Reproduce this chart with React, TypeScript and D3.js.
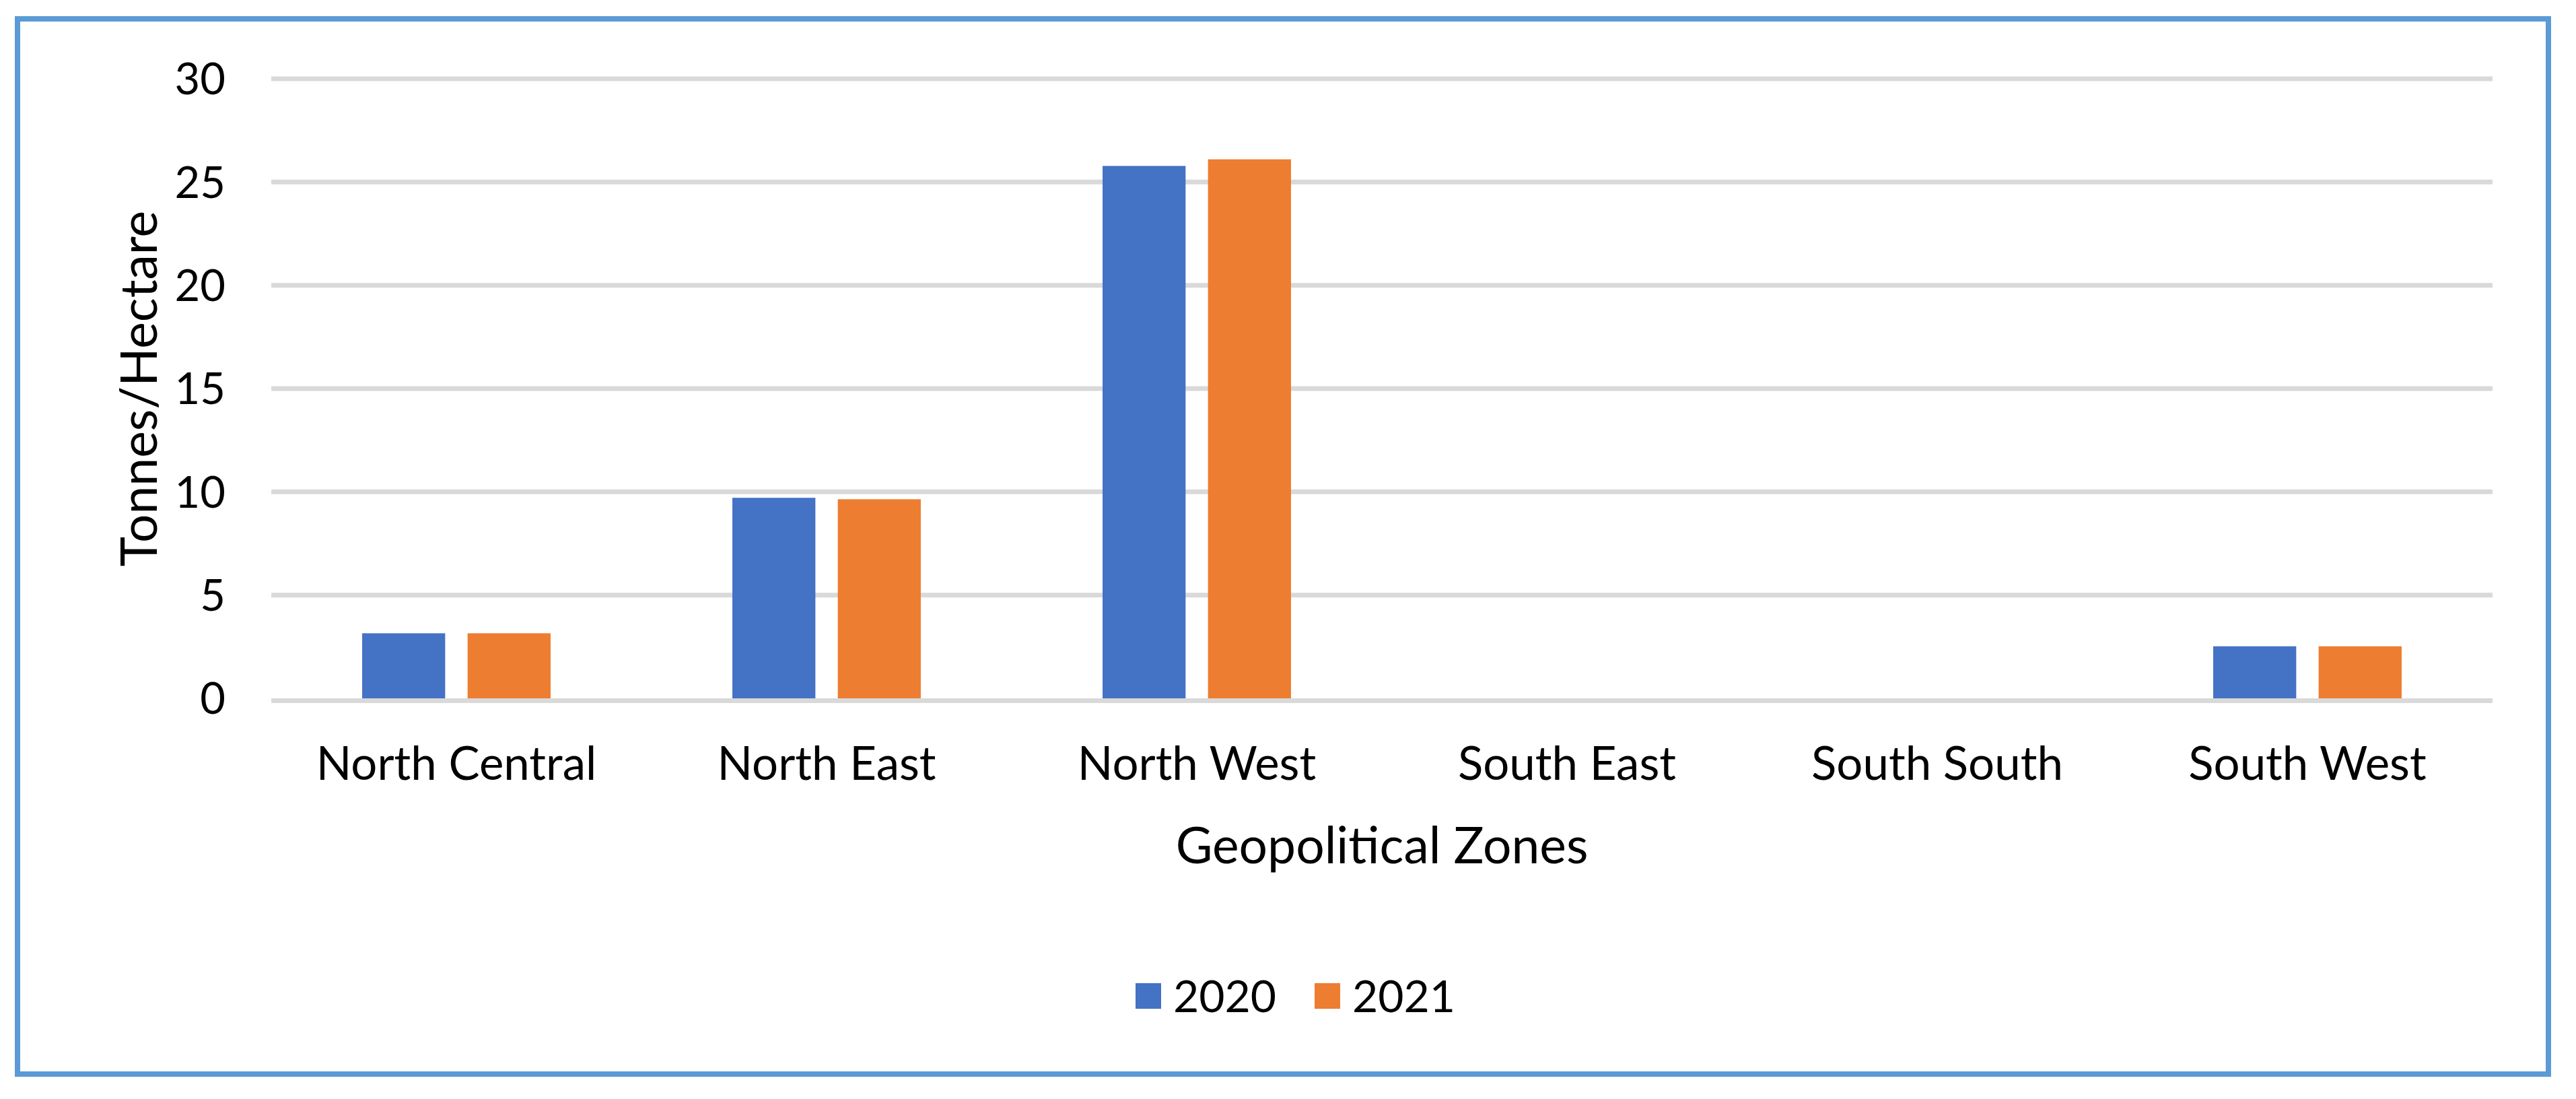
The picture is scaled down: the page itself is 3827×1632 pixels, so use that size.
import React from 'react'
import * as d3 from 'd3'

const zones = ['North Central', 'North East', 'North West', 'South East', 'South South', 'South West']
const years = ['2020', '2021']
const values2020 = [3.15, 9.71, 25.78, 0, 0, 2.52]
const values2021 = [3.15, 9.64, 26.1, 0, 0, 2.52]
const yTicks = [0, 5, 10, 15, 20, 25, 30]
const colors = ['#4472C4', '#ED7D31']

const W = 3827
const H = 1632
const FONT = 'Lato, "Open Sans", sans-serif'

export default function App() {
  const x0 = d3.scaleBand().domain(zones).range([403, 3703]).padding(0)
  const bw = x0.bandwidth() / 4.46
  const gap = bw * 0.27
  const x1 = d3.scaleBand().domain(years)
    .range([-(bw + gap / 2), bw + gap / 2])
    .paddingInner(gap / (bw + gap)).paddingOuter(0)
  const y = d3.scaleLinear().domain([0, 30]).range([1037, 117])
  const color = d3.scaleOrdinal<string, string>().domain(years).range(colors)

  const series = [values2020, values2021]

  // legend
  const legendLeft = 1687
  const itemStep = 266

  return (
    <svg width={W} height={H} style={{ position: 'absolute', left: 0, top: 0, background: '#fff' }}>
      <rect x={0} y={0} width={W} height={H} fill='#fff' />
      <rect x={26} y={28} width={3760} height={1567} fill='#fff' stroke='#5B9BD5' strokeWidth={8} />

      {/* gridlines */}
      {yTicks.filter(t => t > 0).map(t => (
        <line key={t} x1={403} x2={3703} y1={y(t)} y2={y(t)} stroke='#D9D9D9' strokeWidth={7} />
      ))}

      {/* bars */}
      {zones.map((z, i) => (
        <g key={z} transform={`translate(${x0(z)! + x0.bandwidth() / 2},0)`}>
          {years.map((yr, j) => (
            <rect key={yr}
              x={x1(yr)!}
              y={y(series[j][i])}
              width={x1.bandwidth()}
              height={y(0) - y(series[j][i])}
              fill={color(yr)} />
          ))}
        </g>
      ))}

      {/* axis line at zero */}
      <line x1={403} x2={3703} y1={y(0) + 3.5} y2={y(0) + 3.5} stroke='#D9D9D9' strokeWidth={7} />

      {/* y tick labels */}
      {yTicks.map(t => (
        <text key={t} x={335} y={y(t)} dy='0.36em' textAnchor='end'
          fontFamily={FONT} fontSize={65} fill='#000'>{t}</text>
      ))}

      {/* x labels */}
      {zones.map(z => (
        <text key={z} x={x0(z)! + x0.bandwidth() / 2} y={1158} textAnchor='middle'
          fontFamily={FONT} fontSize={69} fill='#000'>{z}</text>
      ))}

      {/* axis titles */}
      <text x={2053} y={1282} textAnchor='middle' fontFamily={FONT} fontSize={75} fill='#000'>Geopolitical Zones</text>
      <text transform='translate(233,577) rotate(-90)' textAnchor='middle'
        fontFamily={FONT} fontSize={75} fill='#000'>Tonnes/Hectare</text>

      {/* legend */}
      {years.map((yr, j) => (
        <g key={yr} transform={`translate(${legendLeft + j * itemStep},1479)`}>
          <rect x={0} y={-19} width={38} height={38} fill={color(yr)} />
          <text x={56} y={0} dy='0.36em' fontFamily={FONT} fontSize={66} fill='#000'>{yr}</text>
        </g>
      ))}
    </svg>
  )
}
